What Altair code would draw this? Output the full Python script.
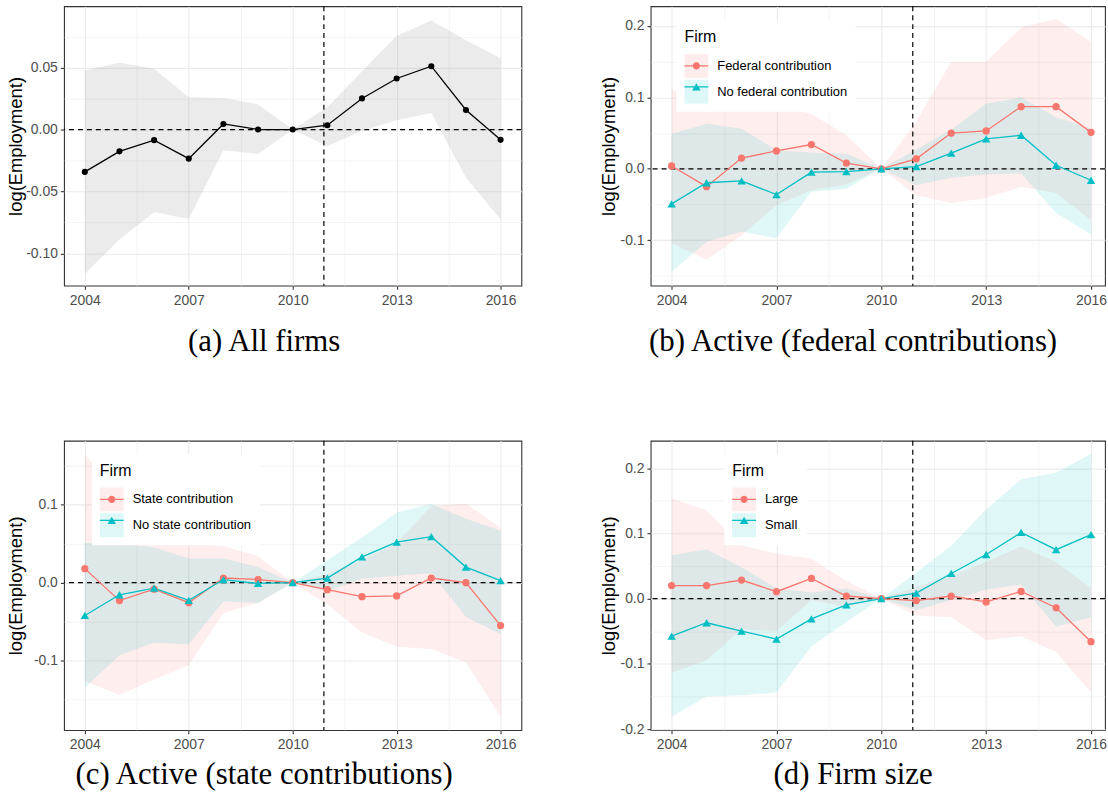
import altair as alt
import pandas as pd

SANS = "Liberation Sans"
SERIF = "Liberation Serif"
RED = "#F8766D"
TEAL = "#00BFC4"

YEARS = [2004, 2005, 2006, 2007, 2008, 2009, 2010, 2011, 2012, 2013, 2014, 2015, 2016]
X_MAJOR = [2004, 2007, 2010, 2013, 2016]
X_MINOR = [2005.5, 2008.5, 2011.5, 2014.5]
EVENT_YEAR = 2010.9
ZERO = 0.0
Y_TITLE = "log(Employment)"
LEGEND_TITLE = "Firm"

# ---------- (a) All firms ----------
A_CAPTION = "(a) All firms"
A_EST = [-0.0342, -0.0176, -0.0086, -0.0235, 0.0045, 0.0, 0.0, 0.0035, 0.0251, 0.0412, 0.0511, 0.0158, -0.0083]
A_LO = [-0.1166, -0.0888, -0.0668, -0.0722, -0.0168, -0.0198, 0.0, -0.0134, -0.001, 0.0075, 0.0134, -0.0388, -0.0727]
A_HI = [0.0476, 0.0540, 0.0490, 0.0260, 0.0254, 0.0203, 0.0, 0.0180, 0.0470, 0.0754, 0.0880, 0.0720, 0.0575]
A_YDOM = [-0.126, 0.0995]
A_Y_MAJOR = [-0.1, -0.05, 0.0, 0.05]
A_Y_MINOR = [-0.075, -0.025, 0.025, 0.075]

# ---------- (b) Active (federal contributions) ----------
B_CAPTION = "(b) Active (federal contributions)"
B_GROUPS = ["Federal contribution", "No federal contribution"]
B1_EST = [0.004, -0.025, 0.015, 0.025, 0.034, 0.008, 0.0, 0.014, 0.050, 0.053, 0.087, 0.087, 0.051]
B1_LO = [-0.104, -0.127, -0.093, -0.051, -0.030, -0.022, 0.0, -0.037, -0.048, -0.041, -0.025, -0.034, -0.072]
B1_HI = [0.112, 0.080, 0.088, 0.088, 0.077, 0.047, 0.0, 0.066, 0.150, 0.150, 0.198, 0.210, 0.178]
B2_EST = [-0.049, -0.0195, -0.017, -0.036, -0.0047, -0.004, 0.0, 0.003, 0.022, 0.042, 0.047, 0.005, -0.016]
B2_LO = [-0.144, -0.102, -0.088, -0.097, -0.032, -0.028, 0.0, -0.023, -0.0126, -0.008, -0.0065, -0.062, -0.092]
B2_HI = [0.049, 0.063, 0.056, 0.026, 0.023, 0.021, 0.0, 0.027, 0.055, 0.091, 0.100, 0.072, 0.056]
B_YDOM = [-0.1635, 0.2275]
B_Y_MAJOR = [-0.1, 0.0, 0.1, 0.2]
B_Y_MINOR = [-0.15, -0.05, 0.05, 0.15]

# ---------- (c) Active (state contributions) ----------
C_CAPTION = "(c) Active (state contributions)"
C_GROUPS = ["State contribution", "No state contribution"]
C1_EST = [0.018, -0.023, -0.0084, -0.0257, 0.006, 0.004, 0.0, -0.009, -0.018, -0.017, 0.006, 0.0, -0.055]
C1_LO = [-0.126, -0.144, -0.124, -0.106, -0.039, -0.026, 0.0, -0.028, -0.064, -0.082, -0.085, -0.102, -0.172]
C1_HI = [0.165, 0.110, 0.075, 0.050, 0.047, 0.034, 0.0, 0.011, 0.029, 0.051, 0.098, 0.1015, 0.070]
C2_EST = [-0.042, -0.0155, -0.007, -0.0226, 0.004, -0.001, 0.0, 0.0058, 0.033, 0.052, 0.059, 0.020, 0.0027]
C2_LO = [-0.135, -0.093, -0.077, -0.079, -0.024, -0.026, 0.0, -0.011, 0.005, 0.009, 0.012, -0.044, -0.066]
C2_HI = [0.051, 0.051, 0.045, 0.031, 0.031, 0.020, 0.0, 0.029, 0.058, 0.090, 0.101, 0.082, 0.067]
C_YDOM = [-0.189, 0.182]
C_Y_MAJOR = [-0.1, 0.0, 0.1]
C_Y_MINOR = [-0.15, -0.05, 0.05, 0.15]

# ---------- (d) Firm size ----------
D_CAPTION = "(d) Firm size"
D_GROUPS = ["Large", "Small"]
D1_EST = [0.020, 0.020, 0.0285, 0.0106, 0.031, 0.004, 0.0, -0.003, 0.004, -0.005, 0.011, -0.014, -0.066]
D1_LO = [-0.114, -0.0945, -0.047, -0.0497, -0.002, -0.0127, 0.0, -0.026, -0.0285, -0.064, -0.0576, -0.082, -0.144]
D1_HI = [0.154, 0.135, 0.082, 0.069, 0.061, 0.027, 0.0, 0.018, 0.035, 0.056, 0.080, 0.056, 0.016]
D2_EST = [-0.0576, -0.037, -0.0497, -0.062, -0.031, -0.0095, 0.0, 0.0085, 0.0386, 0.0676, 0.1014, 0.075, 0.098]
D2_LO = [-0.181, -0.150, -0.148, -0.144, -0.073, -0.036, 0.0, -0.018, -0.002, 0.0137, 0.0217, -0.043, -0.0285]
D2_HI = [0.0666, 0.0755, 0.048, 0.016, 0.0095, 0.016, 0.0, 0.040, 0.081, 0.137, 0.183, 0.193, 0.222]
D_YDOM = [-0.2015, 0.242]
D_Y_MAJOR = [-0.2, -0.1, 0.0, 0.1, 0.2]
D_Y_MINOR = [-0.15, -0.05, 0.05, 0.15]

# legend key symbols (line + marker), unit coordinates
KEY_CIRCLE = "M-1,-0.055L1,-0.055L1,0.055L-1,0.055Z M0.3,0A0.3,0.3,0,1,1,-0.3,0A0.3,0.3,0,1,1,0.3,0Z"
KEY_TRIANGLE = "M-1,-0.055L1,-0.055L1,0.055L-1,0.055Z M0,-0.306L0.354,0.306L-0.354,0.306Z"

LABEL_SIZE = 14
TITLE_SIZE = 18.5
LEFT_EXTENT = 38.6    # panels (a), (c)
RIGHT_EXTENT = 31.8   # panels (b), (d)


def long_df(groups, ests, los, his):
    rows = []
    for g, e, lo, hi in zip(groups, ests, los, his):
        for yr, ee, ll, hh in zip(YEARS, e, lo, hi):
            rows.append({"year": yr, "est": ee, "lo": ll, "hi": hh,
                         "band": g, "grp": g, "key": g + " "})
    return pd.DataFrame(rows)


def minor_test(minors):
    return "indexof([" + ",".join(repr(v) for v in minors) + "], datum.value) >= 0"


def x_axis():
    t = minor_test(X_MINOR)
    return alt.Axis(values=X_MAJOR + X_MINOR, title=None,
                    labelExpr=f"{t} ? '' : format(datum.value, 'd')",
                    gridWidth={"condition": {"test": t, "value": 0.55}, "value": 1.1},
                    tickOpacity={"condition": {"test": t, "value": 0}, "value": 1},
                    labelFlush=False, labelOverlap=False, labelPadding=4)


def y_axis(majors, minors, fmt, extent):
    t = minor_test(minors)
    return alt.Axis(values=majors + minors, title=Y_TITLE,
                    labelExpr=f"{t} ? '' : (datum.value < 0 ? '-' : '') + format(abs(datum.value), '{fmt}')",
                    gridWidth={"condition": {"test": t, "value": 0.55}, "value": 1.1},
                    tickOpacity={"condition": {"test": t, "value": 0}, "value": 1},
                    labelFlush=False, labelOverlap=False, labelPadding=3, titlePadding=0.5,
                    minExtent=extent, maxExtent=extent)


def legend_common(lx, ly):
    return dict(orient="none", legendX=lx, legendY=ly, direction="vertical",
                symbolSize=576, symbolStrokeWidth=0,
                titleFont=SANS, titleFontSize=16, titleFontWeight="normal", titleColor="black",
                titlePadding=9, labelFont=SANS, labelFontSize=13, labelColor="black",
                labelOffset=9, padding=8, rowPadding=2)


def build_panel(df, groups, colors, ydom, ymaj, ymin, yfmt, yext, xdom, width, height,
                caption, cap_offset, legend_xy=None):
    xs = alt.Scale(domain=xdom, nice=False, zero=False)
    ys = alt.Scale(domain=ydom, nice=False, zero=False)
    xa = x_axis()
    ya = y_axis(ymaj, ymin, yfmt, yext)
    X = alt.X("year:Q", scale=xs, axis=xa)
    base = alt.Chart(df)
    layers = []
    if legend_xy is None:
        area = base.mark_area(color="#999999", opacity=0.2).encode(
            X, alt.Y("lo:Q", scale=ys, axis=ya), alt.Y2("hi:Q"))
    else:
        legA = alt.Legend(title=LEGEND_TITLE, **legend_common(*legend_xy), fillColor="white",
                          symbolType="square", symbolOpacity=0.13)
        area = base.mark_area(opacity=0.12).encode(
            X, alt.Y("lo:Q", scale=ys, axis=ya), alt.Y2("hi:Q"),
            fill=alt.Fill("band:N", scale=alt.Scale(domain=groups, range=colors), legend=legA))
    layers.append(area)

    hline = alt.Chart(pd.DataFrame({"v": [ZERO]})).mark_rule(
        color="black", strokeDash=[5, 4], strokeWidth=1.2).encode(
        y=alt.Y("v:Q", scale=ys, axis=ya))
    vline = alt.Chart(pd.DataFrame({"v": [EVENT_YEAR]})).mark_rule(
        color="black", strokeDash=[5, 4], strokeWidth=1.2).encode(
        x=alt.X("v:Q", scale=xs, axis=xa))
    layers += [hline, vline]

    if legend_xy is None:
        layers.append(base.mark_line(color="black", strokeWidth=1.3).encode(
            X, alt.Y("est:Q", scale=ys, axis=ya)))
        layers.append(base.mark_point(filled=True, shape="circle", size=38, color="black",
                                      opacity=1).encode(X, alt.Y("est:Q", scale=ys, axis=ya)))
    else:
        shapes = ["circle", "triangle-up"]
        sizes = [53, 72]
        for g, col in zip(groups, colors):
            sub = base.transform_filter(alt.datum.grp == g)
            layers.append(sub.mark_line(color=col, strokeWidth=1.3).encode(
                X, alt.Y("est:Q", scale=ys, axis=ya)))
        for g, col, shp, sz in zip(groups, colors, shapes, sizes):
            sub = base.transform_filter(alt.datum.grp == g)
            layers.append(sub.mark_point(filled=True, shape=shp, size=sz, color=col,
                                         opacity=1).encode(
                X, alt.Y("est:Q", scale=ys, axis=ya)))
        key_domain = [g + " " for g in groups]
        legB = alt.Legend(title=" ", **legend_common(*legend_xy), titleOpacity=0,
                          labelExpr="''")
        key = base.transform_filter("false").mark_point(filled=True, opacity=1).encode(
            X, alt.Y("est:Q", scale=ys, axis=ya),
            color=alt.Color("key:N", scale=alt.Scale(domain=key_domain, range=colors), legend=legB),
            shape=alt.Shape("key:N", scale=alt.Scale(domain=key_domain,
                                                     range=[KEY_CIRCLE, KEY_TRIANGLE]),
                            legend=legB))
        layers.append(key)

    return alt.layer(*layers).properties(
        width=width, height=height,
        title=alt.TitleParams(caption, orient="bottom", anchor="middle", frame="bounds",
                              font=SERIF, fontSize=31, fontWeight="normal", color="black",
                              offset=cap_offset))


pa = build_panel(long_df(["All"], [A_EST], [A_LO], [A_HI]), ["All"], ["black"],
                 A_YDOM, A_Y_MAJOR, A_Y_MINOR, ".2f", LEFT_EXTENT, [2003.4, 2016.6], 460, 281,
                 A_CAPTION, 20)
pb = build_panel(long_df(B_GROUPS, [B1_EST, B2_EST], [B1_LO, B2_LO], [B1_HI, B2_HI]),
                 B_GROUPS, [RED, TEAL], B_YDOM, B_Y_MAJOR, B_Y_MINOR, ".1f", RIGHT_EXTENT,
                 [2003.4, 2016.4], 457, 281, B_CAPTION, 20, legend_xy=(26, 15))
pc = build_panel(long_df(C_GROUPS, [C1_EST, C2_EST], [C1_LO, C2_LO], [C1_HI, C2_HI]),
                 C_GROUPS, [RED, TEAL], C_YDOM, C_Y_MAJOR, C_Y_MINOR, ".1f", LEFT_EXTENT,
                 [2003.4, 2016.6], 460, 291, C_CAPTION, 9, legend_xy=(28, 14))
pd_ = build_panel(long_df(D_GROUPS, [D1_EST, D2_EST], [D1_LO, D2_LO], [D1_HI, D2_HI]),
                  D_GROUPS, [RED, TEAL], D_YDOM, D_Y_MAJOR, D_Y_MINOR, ".1f", RIGHT_EXTENT,
                  [2003.4, 2016.4], 457, 291, D_CAPTION, 9, legend_xy=(74, 14))

IND = dict(fill="independent", color="independent", shape="independent")

chart = alt.concat(
    pa, pb, pc, pd_, columns=2, align="none",
    spacing={"row": 81, "column": 76},
).resolve_scale(**IND).resolve_legend(**IND).properties(
    padding={"left": 5.4, "top": 2, "right": 0, "bottom": 0},
    background="white",
).configure_view(
    stroke="#333333", strokeWidth=1.1
).configure_axis(
    domain=False, tickColor="#333333", tickSize=3.7, tickWidth=1.1,
    gridColor="#EBEBEB", labelFont=SANS, labelFontSize=LABEL_SIZE, labelColor="#4D4D4D",
    titleFont=SANS, titleFontSize=TITLE_SIZE, titleFontWeight="normal", titleColor="black",
)

chart.save("out.html", embed_options={"renderer": "svg", "actions": False})
